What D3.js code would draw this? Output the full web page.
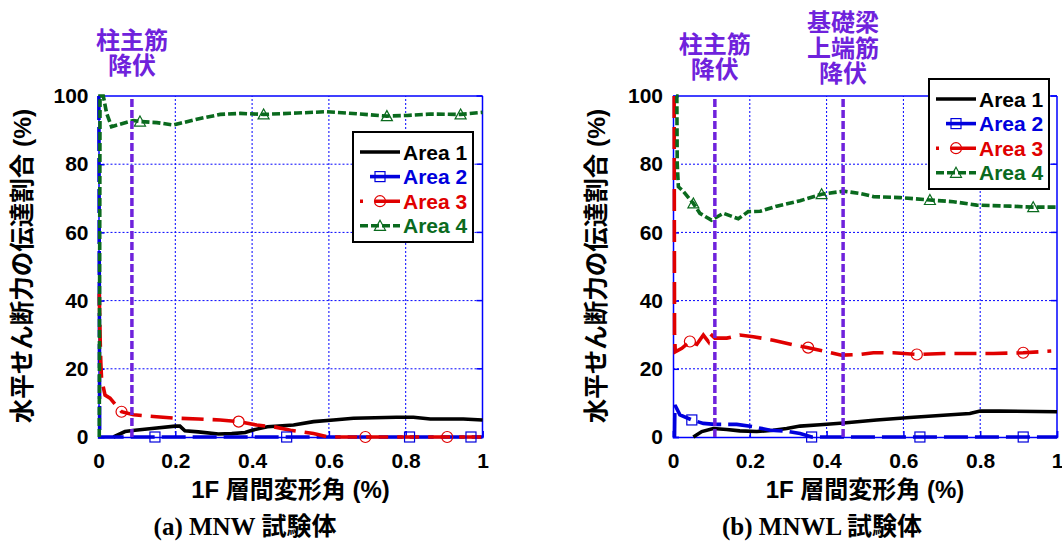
<!DOCTYPE html>
<html><head><meta charset="utf-8">
<script src="https://cdn.jsdelivr.net/npm/d3@7"></script>
<style>body{margin:0;background:#fff}</style></head>
<body><svg id="c" width="1062" height="542"></svg>
<script>
// ---------- data ----------
const xTicks = [0, 0.2, 0.4, 0.6, 0.8, 1];
const yTicks = [0, 20, 40, 60, 80, 100];
const seriesNames = ["Area 1", "Area 2", "Area 3", "Area 4"];
const xTitle = "1F 層間変形角 (%)";
const yTitle = "水平せん断力の伝達割合 (%)";

// (a) MNW
const mnwArea1 = [[0.039,0],[0.069,1.6],[0.095,2.0],[0.139,2.5],[0.2,3.2],[0.212,3.2],[0.225,1.8],[0.26,1.5],[0.312,0.9],[0.347,1.0],[0.382,1.3],[0.4,2.0],[0.44,3.0],[0.508,3.5],[0.56,4.5],[0.612,5.0],[0.664,5.5],[0.776,5.8],[0.82,5.8],[0.864,5.3],[0.95,5.3],[1.0,5.0]];
const mnwArea2 = [[0.001,100],[0.002,50],[0.003,0],[1.0,0]];
const mnwArea3 = [[0.002,42],[0.004,30],[0.006,22],[0.008,17],[0.017,12.3],[0.03,11.4],[0.06,7.4],[0.091,6.5],[0.143,6.0],[0.204,5.5],[0.26,5.3],[0.317,5.0],[0.365,4.5],[0.412,3.5],[0.456,3.0],[0.5,2.0],[0.56,1.0],[0.6,0],[1.0,0]];
const mnwArea4 = [[0.002,0],[0.003,50],[0.004,100],[0.0125,100],[0.021,95],[0.034,91],[0.065,92],[0.091,92.8],[0.108,92.5],[0.152,92.2],[0.195,91.5],[0.213,92],[0.256,93.2],[0.317,94.6],[0.369,94.9],[0.43,94.6],[0.517,95],[0.595,95.4],[0.647,95],[0.751,94.1],[0.804,94.3],[0.864,94.7],[0.943,94.6],[1.0,95.2]];
const mnwMarks2 = [[0.147,0],[0.49,0],[0.81,0],[0.97,0]];
const mnwMarks3 = [[0.06,7.4],[0.365,4.5],[0.695,0],[0.908,0]];
const mnwMarks4 = [[0.108,92.5],[0.43,94.6],[0.751,94.1],[0.943,94.6]];
const mnwYieldX = [0.087];
const mnwYieldLabels = [["柱主筋","降伏"]];
const mnwCaption = "(a) MNW 試験体";

// (b) MNWL
const mnwlArea1 = [[0.053,0],[0.075,1.6],[0.105,2.5],[0.14,2.2],[0.174,1.8],[0.218,1.6],[0.261,2.0],[0.296,2.5],[0.331,3.2],[0.383,3.6],[0.444,4.1],[0.53,5.0],[0.617,5.7],[0.704,6.4],[0.773,6.9],[0.8,7.6],[0.85,7.6],[1.0,7.4]];
const mnwlArea2 = [[0.004,0],[0.005,9.4],[0.018,6.5],[0.049,5],[0.079,4],[0.109,3.7],[0.166,3.7],[0.209,3.0],[0.253,2.0],[0.296,1.7],[0.331,1.0],[0.361,0],[1.0,0]];
const mnwlArea3 = [[0.003,100],[0.004,30],[0.006,25],[0.023,26],[0.044,28],[0.062,27.2],[0.079,29.9],[0.092,28],[0.096,30.4],[0.109,29],[0.14,29],[0.174,29.9],[0.209,29.4],[0.261,28.4],[0.313,27],[0.352,26.2],[0.4,25],[0.439,24],[0.487,24.2],[0.522,24.7],[0.574,24.7],[0.635,24.2],[0.704,24.5],[0.834,24.5],[0.912,24.7],[0.985,25.2]];
const mnwlArea4 = [[0.008,100],[0.01,100],[0.011,80],[0.014,73.4],[0.027,72],[0.053,68.5],[0.07,65.6],[0.1,63.6],[0.131,65.6],[0.17,64.0],[0.196,66.1],[0.227,66.2],[0.27,67.7],[0.331,69.3],[0.387,71.2],[0.444,72.1],[0.487,71.4],[0.522,70.5],[0.591,70.2],[0.669,69.5],[0.73,69],[0.791,68],[0.878,67.7],[0.938,67.4],[1.0,67.4]];
const mnwlMarks2 = [[0.049,5],[0.361,0],[0.643,0],[0.912,0]];
const mnwlMarks3 = [[0.044,28],[0.352,26.2],[0.635,24.2],[0.912,24.7]];
const mnwlMarks4 = [[0.053,68.5],[0.387,71.2],[0.669,69.5],[0.938,67.4]];
const mnwlYieldX = [0.109, 0.443];
const mnwlYieldLabels = [["柱主筋","降伏"],["基礎梁","上端筋","降伏"]];
const mnwlCaption = "(b) MNWL 試験体";

// ---------- styles ----------
const colors = ["#000000", "#0000dd", "#e00000", "#0a6a1e"];
const dashes = [null, "24,7", "22,9", "8,3"];
const markerTypes = [null, "square", "circle", "triangle"];
const purple = "#6f22dc";
const SANS = "'Liberation Sans', Arial, 'Noto Sans CJK JP', sans-serif";
const SERIF = "'Liberation Serif', 'Times New Roman', 'Noto Sans CJK JP', serif";

const svg = d3.select("#c");

function marker(g, type, cx, cy, color) {
  if (type === "square") {
    g.append("rect").attr("x", cx-5).attr("y", cy-5).attr("width", 10).attr("height", 10)
      .attr("fill", "none").attr("stroke", color).attr("stroke-width", 1.2);
  } else if (type === "circle") {
    g.append("circle").attr("cx", cx).attr("cy", cy).attr("r", 5.5)
      .attr("fill", "none").attr("stroke", color).attr("stroke-width", 1.2);
  } else if (type === "triangle") {
    g.append("path").attr("d", `M${cx-5.5},${cy+4.5}L${cx},${cy-5.5}L${cx+5.5},${cy+4.5}Z`)
      .attr("fill", "none").attr("stroke", color).attr("stroke-width", 1.2);
  }
}

function panel(cfg) {
  const x = d3.scaleLinear().domain([0, 1]).range([cfg.left, cfg.left + 384]);
  const y = d3.scaleLinear().domain([0, 100]).range([437, 96]);
  const g = svg.append("g");

  // grid
  g.selectAll(".gx").data(xTicks.slice(1, -1)).join("line")
    .attr("x1", d => x(d)).attr("x2", d => x(d)).attr("y1", y(0)).attr("y2", y(100))
    .attr("stroke", "#0000ff").attr("stroke-width", 1).attr("stroke-dasharray", "2,2");
  g.selectAll(".gy").data(yTicks.slice(1, -1)).join("line")
    .attr("x1", x(0)).attr("x2", x(1)).attr("y1", d => y(d)).attr("y2", d => y(d))
    .attr("stroke", "#0000ff").attr("stroke-width", 1).attr("stroke-dasharray", "2,2");

  // axes
  const ax = g.append("g").attr("transform", `translate(0,${y(0)})`)
    .call(d3.axisBottom(x).tickValues(xTicks).tickFormat(d => String(d)).tickSize(-6).tickPadding(16));
  const ay = g.append("g").attr("transform", `translate(${x(0)},0)`)
    .call(d3.axisLeft(y).tickValues(yTicks).tickFormat(d => String(d)).tickSize(-6).tickPadding(10));
  [ax, ay].forEach(a => {
    a.select(".domain").attr("stroke", "#0000ff").attr("stroke-width", 1.5);
    a.selectAll(".tick line").attr("stroke", "#0000ff").attr("stroke-width", 1.5);
    a.selectAll("text").attr("font-family", SANS).attr("font-weight", "bold")
      .attr("font-size", 21).attr("fill", "#000");
  });
  // top / right frame
  g.append("line").attr("x1", x(0)).attr("x2", x(1)).attr("y1", y(100)).attr("y2", y(100))
    .attr("stroke", "#0000ff").attr("stroke-width", 1.5);
  g.append("line").attr("x1", x(1)).attr("x2", x(1)).attr("y1", y(0)).attr("y2", y(100))
    .attr("stroke", "#0000ff").attr("stroke-width", 1.5);
  g.selectAll(".rt").data(yTicks).join("line")
    .attr("x1", x(1)).attr("x2", x(1) - 6).attr("y1", d => y(d)).attr("y2", d => y(d))
    .attr("stroke", "#0000ff").attr("stroke-width", 1.5);

  // series
  const line = d3.line().x(d => x(d[0])).y(d => y(d[1]));
  cfg.series.forEach((s, i) => {
    g.append("path").datum(s).attr("d", line).attr("fill", "none")
      .attr("stroke", colors[i]).attr("stroke-width", 3.6)
      .attr("stroke-dasharray", dashes[i]);
  });
  cfg.marks.forEach((m, k) => {
    const i = k + 1;
    m.forEach(p => marker(g, markerTypes[i], x(p[0]), y(p[1]), colors[i]));
  });

  // yield lines
  g.selectAll(".yl").data(cfg.yieldX).join("line")
    .attr("x1", d => x(d)).attr("x2", d => x(d)).attr("y1", y(0)).attr("y2", y(100))
    .attr("stroke", purple).attr("stroke-width", 3.5).attr("stroke-dasharray", "8,3");
  cfg.yieldX.forEach((xv, j) => {
    const lines = cfg.yieldLabels[j];
    const bottom = cfg.labelBottom[j];
    lines.forEach((t, k) => {
      g.append("text").attr("x", x(xv)).attr("y", bottom - (lines.length - 1 - k) * 25.5)
        .attr("text-anchor", "middle").attr("font-family", SANS).attr("font-weight", "bold")
        .attr("font-size", 24).attr("fill", purple).text(t);
    });
  });

  // titles
  g.append("text").attr("x", x(0.5)).attr("y", 498).attr("text-anchor", "middle")
    .attr("font-family", SANS).attr("font-weight", "bold").attr("font-size", 24).text(xTitle);
  g.append("text").attr("transform", `translate(${cfg.left - 76.5},266) rotate(-90)`)
    .attr("text-anchor", "middle").attr("dy", "0.36em")
    .attr("font-family", SANS).attr("font-weight", "bold").attr("font-size", 24.5).text(yTitle);
  g.append("text").attr("x", cfg.captionX).attr("y", 535).attr("text-anchor", "middle")
    .attr("font-family", SERIF).attr("font-weight", "bold").attr("font-size", 25).text(cfg.caption);

  // legend
  const lg = g.append("g").attr("transform", `translate(${cfg.legend[0]},${cfg.legend[1]})`);
  lg.append("rect").attr("width", 120).attr("height", 110).attr("fill", "#fff")
    .attr("stroke", "#000").attr("stroke-width", 2);
  seriesNames.forEach((n, i) => {
    const ly = 20 + i * 24.6;
    const sx0 = i === 1 ? 17 : 7;
    lg.append("line").attr("x1", sx0).attr("x2", 47).attr("y1", ly).attr("y2", ly)
      .attr("stroke", colors[i]).attr("stroke-width", 3.6)
      .attr("stroke-dasharray", i === 2 ? "3,12,40" : (i === 3 ? "8,3" : null));
    if (markerTypes[i]) marker(lg, markerTypes[i], 27, ly, colors[i]);
    lg.append("text").attr("x", 50).attr("y", ly).attr("dy", "0.36em")
      .attr("font-family", SANS).attr("font-weight", "bold").attr("font-size", 21)
      .attr("fill", colors[i]).text(n);
  });
}

panel({left: 98.5, series: [mnwArea1, mnwArea2, mnwArea3, mnwArea4],
  marks: [mnwMarks2, mnwMarks3, mnwMarks4], yieldX: mnwYieldX, yieldLabels: mnwYieldLabels,
  labelBottom: [74], caption: mnwCaption, captionX: 245, legend: [353, 132]});
panel({left: 673, series: [mnwlArea1, mnwlArea2, mnwlArea3, mnwlArea4],
  marks: [mnwlMarks2, mnwlMarks3, mnwlMarks4], yieldX: mnwlYieldX, yieldLabels: mnwlYieldLabels,
  labelBottom: [78, 82], caption: mnwlCaption, captionX: 822, legend: [929, 79]});
</script>
</body></html>
